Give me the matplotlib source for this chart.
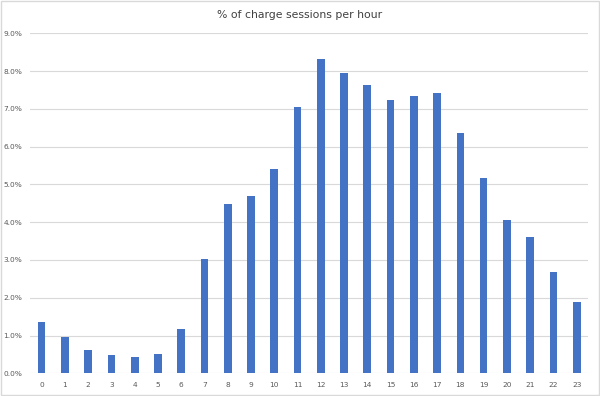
import matplotlib
matplotlib.use("Agg")
import matplotlib.pyplot as plt
from matplotlib.ticker import FuncFormatter
from matplotlib.patches import Rectangle

hours = list(range(24))
share = [1.36, 0.95, 0.62, 0.48, 0.44, 0.51, 1.17, 3.02, 4.47, 4.69, 5.42, 7.04,
         8.31, 7.94, 7.63, 7.24, 7.35, 7.41, 6.35, 5.17, 4.05, 3.61, 2.69, 1.88]
title = "% of charge sessions per hour"
yticks = [0, 1, 2, 3, 4, 5, 6, 7, 8, 9]

fig = plt.figure(figsize=(6, 3.96), dpi=100)
ax = fig.add_axes([0.05, 0.0573, 0.9305, 0.8587])
ax.bar(hours, share, width=0.33, color="#4472C4", zorder=3)
ax.set_xlim(-0.5, 23.5)
ax.set_ylim(0, 9)
ax.set_yticks(yticks)
ax.yaxis.set_major_formatter(FuncFormatter(lambda v, p: f"{v:.1f}%"))
ax.set_xticks(hours)
ax.set_xticklabels([str(h) for h in hours])
ax.grid(axis="y", color="#D9D9D9", linewidth=0.8, zorder=0)
for s in ax.spines.values():
    s.set_visible(False)
ax.tick_params(axis="both", length=0, labelsize=5.3, labelcolor="#595959")
ax.tick_params(axis="y", pad=5.5)
ax.tick_params(axis="x", pad=6)
fig.text(0.5, 0.962, title, ha="center", va="center", fontsize=7.8, color="#404040")
fig.patches.append(Rectangle((0.002, 0.002), 0.996, 0.996, transform=fig.transFigure,
                             fill=False, edgecolor="#D9D9D9", linewidth=1))
fig.savefig("out.png", dpi=100)
